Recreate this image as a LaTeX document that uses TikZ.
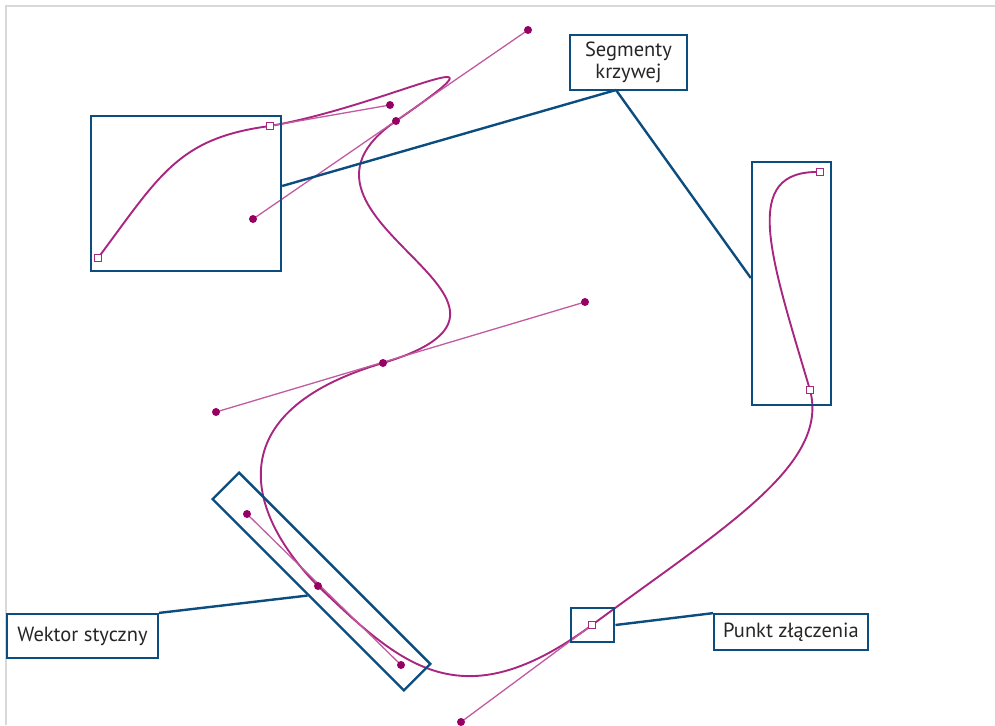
\documentclass[tikz,border=0pt]{standalone}
\usepackage{fontspec}
\setmainfont{PT Sans}
\definecolor{curvecol}{RGB}{168,38,128}
\definecolor{handlecol}{RGB}{195,90,160}
\definecolor{dotcol}{RGB}{150,0,100}
\definecolor{boxcol}{RGB}{12,77,128}
\definecolor{framecol}{RGB}{216,216,216}

\begin{document}
\begin{tikzpicture}[x=1pt,y=-1pt]
    \tikzstyle{dot} = [circle,fill=dotcol,inner sep=0pt,minimum size=8pt]
    \tikzstyle{knot} = [rectangle,draw=curvecol,fill=white,line width=1.1pt,inner sep=0pt,minimum size=7pt]
    \tikzstyle{zone} = [rectangle,draw=boxcol,line width=2.4pt,inner sep=0pt]
    \tikzstyle{callout} = [rectangle,draw=boxcol,fill=white,line width=2.2pt,inner sep=0pt,align=center,font=\fontsize{20.5}{22}\selectfont,text=black!85]
    \tikzstyle{handle} = [handlecol,line width=1.3pt]
    \tikzstyle{link} = [boxcol,line width=2.4pt]
        \useasboundingbox (0,0) rectangle (995,725);
        \draw[framecol,line width=1.6pt] (6,725) -- (6,6) -- (995,6);
        % curve points and handles
        \coordinate (k1) at (98,258);
        \coordinate (k2) at (270,126);
        \coordinate (k3) at (592,625);
        \coordinate (k4) at (810,390);
        \coordinate (k5) at (820,172);
        \coordinate (n1) at (396,121);
        \coordinate (n2) at (383,363);
        \coordinate (n3) at (318,586);
        \coordinate (h1) at (390,105);
        \coordinate (h2) at (528,30);
        \coordinate (h3) at (253,219);
        \coordinate (h4) at (585,302);
        \coordinate (h5) at (216,412);
        \coordinate (h6) at (247,514);
        \coordinate (h7) at (401,665);
        \coordinate (h8) at (461,722);
        \draw[curvecol,line width=1.9pt] (k1) .. controls (160,175) and (178,138) .. (k2)
            .. controls (h1) and (h2) .. (n1)
            .. controls (h3) and (h4) .. (n2)
            .. controls (h5) and (h6) .. (n3)
            .. controls (h7) and (h8) .. (k3)
            .. controls (723,528) and (830,465) .. (k4)
            .. controls (770,255) and (740,170) .. (k5);
        \draw[handle] (k2) -- (h1);
        \draw[handle] (h2) -- (h3);
        \draw[handle] (h4) -- (h5);
        \draw[handle] (h6) -- (h7);
        \draw[handle] (h8) -- (k3);
        \foreach \p in {n1,n2,n3,h1,h2,h3,h4,h5,h6,h7,h8}
            \node[dot] at (\p) {};
        \foreach \p in {k1,k2,k3,k4,k5}
            \node[knot] at (\p) {};
        % framed parts
        \node[zone,minimum width=190pt,minimum height=155pt] (segzoneA) at (186,193.5) {};
        \node[zone,minimum width=79pt,minimum height=243pt] (segzoneB) at (791.5,283.5) {};
        \node[zone,minimum width=270.5pt,minimum height=37.4pt,rotate=-45] (tanzone) at (321.5,581.5) {};
        \node[zone,minimum width=43.5pt,minimum height=33.5pt] (joinzone) at (592.5,625) {};
        % labels
        \node[callout,minimum width=116.5pt,minimum height=55pt] (segm) at (628.5,62.5) {Segmenty\\krzywej};
        \node[callout,minimum width=151pt,minimum height=44pt] (tang) at (82.5,636) {Wektor styczny};
        \node[callout,minimum width=154pt,minimum height=35.5pt] (join) at (791,632) {Punkt złączenia};
        \coordinate (segfoot) at (616,90);
        \draw[link] (segfoot) -- ([yshift=7.5pt]segzoneA.east);
        \draw[link] (segfoot) -- ([yshift=5.5pt]segzoneB.west);
        \draw[link] (tang.north east) -- (tanzone.south);
        \draw[link] (joinzone.east) -- (join.north west);
\end{tikzpicture}
\end{document}
